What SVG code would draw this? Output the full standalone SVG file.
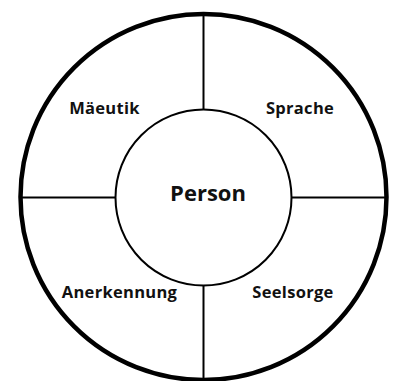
<svg xmlns="http://www.w3.org/2000/svg" width="398" height="381" viewBox="0 0 398 381">
<style>
.lbl{font-family:"Open Sans","Noto Sans",sans-serif;font-weight:bold;font-size:16.5px;letter-spacing:0.3px;fill:#111;text-anchor:middle}
.ctr{font-family:"Open Sans","Noto Sans",sans-serif;font-weight:bold;font-size:22px;fill:#111;text-anchor:middle}
.ln{stroke:#000;stroke-width:2;fill:none}
</style>
<rect width="398" height="381" fill="#fff"/>
<g id="outer">
<circle cx="203.5" cy="197" r="183" fill="#fff" stroke="#000" stroke-width="4.5"/>
</g>
<g id="connectors">
<line class="ln" x1="203.5" y1="14" x2="203.5" y2="109"/>
<line class="ln" x1="203.5" y1="285" x2="203.5" y2="380"/>
<line class="ln" x1="20.5" y1="197.5" x2="115.5" y2="197.5"/>
<line class="ln" x1="291.5" y1="197.5" x2="386.5" y2="197.5"/>
</g>
<g id="person">
<circle cx="203.5" cy="197.5" r="88" fill="#fff" stroke="#000" stroke-width="2"/>
<text class="ctr" x="208" y="201">Person</text>
</g>
<g id="maeeutik"><text class="lbl" x="104.5" y="113.5">Mäeutik</text></g>
<g id="sprache"><text class="lbl" x="300" y="113.5">Sprache</text></g>
<g id="anerkennung"><text class="lbl" x="119.5" y="298">Anerkennung</text></g>
<g id="seelsorge"><text class="lbl" x="293" y="298">Seelsorge</text></g>
</svg>
